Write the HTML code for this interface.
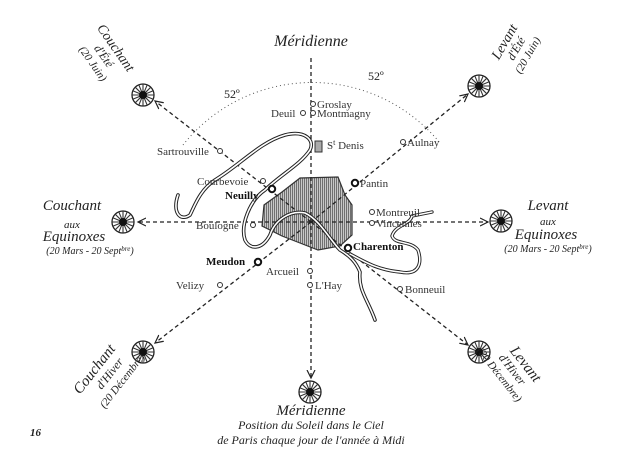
<!DOCTYPE html>
<html><head><meta charset="utf-8"><style>
html,body{margin:0;padding:0;background:#fff;}
svg{display:block;}
text{font-family:"Liberation Serif",serif;font-style:italic;fill:#222;}
.s{font-style:normal;font-size:11px;fill:#333;}
.b{font-style:normal;font-weight:bold;font-size:11px;fill:#111;}
</style></head><body>
<svg width="638" height="460" viewBox="0 0 638 460" xmlns="http://www.w3.org/2000/svg">
<defs>
<g id="sun">
<circle r="11" fill="#fff" stroke="#222" stroke-width="1.3"/>
<g stroke="#333" stroke-width="1.1">
<line x1="-11" y1="0" x2="11" y2="0"/><line x1="0" y1="-11" x2="0" y2="11"/>
<line x1="-7.8" y1="-7.8" x2="7.8" y2="7.8"/><line x1="-7.8" y1="7.8" x2="7.8" y2="-7.8"/>
<line x1="-10.2" y1="-4.2" x2="10.2" y2="4.2"/><line x1="-10.2" y1="4.2" x2="10.2" y2="-4.2"/>
<line x1="-4.2" y1="-10.2" x2="4.2" y2="10.2"/><line x1="-4.2" y1="10.2" x2="4.2" y2="-10.2"/>
</g>
<circle r="4" fill="#111"/>
</g>
<pattern id="hatch" width="2" height="4" patternUnits="userSpaceOnUse">
<rect width="2" height="4" fill="#c8c8c8"/><line x1="0.5" y1="0" x2="0.5" y2="4" stroke="#666" stroke-width="0.9"/>
</pattern>
<marker id="ah" markerWidth="10" markerHeight="10" refX="8" refY="5" orient="auto" markerUnits="userSpaceOnUse">
<path d="M0,1 L8,5 L0,9" fill="none" stroke="#222" stroke-width="1.2"/>
</marker>
</defs>

<path d="M183,145 A165,165 0 0 1 440,143" fill="none" stroke="#555" stroke-width="1" stroke-dasharray="1,3"/>
<text x="224" y="98" font-size="12" style="font-style:normal">52º</text>
<text x="368" y="80" font-size="12" style="font-style:normal">52º</text>

<path d="M300,178 L338,177 L345,195 L352,205 L352,235 L340,246 L318,250 L300,243 L282,236 L262,226 L264,205 L282,192 Z" fill="url(#hatch)" stroke="#333" stroke-width="1.2"/>

<g stroke="#222" stroke-width="1.3" stroke-dasharray="4,3" fill="none">
<line x1="311" y1="58" x2="311" y2="378" marker-end="url(#ah)"/>
<line x1="311" y1="222" x2="138" y2="222" marker-end="url(#ah)"/>
<line x1="311" y1="222" x2="488" y2="222" marker-end="url(#ah)"/>
<line x1="311" y1="222" x2="155" y2="101" marker-end="url(#ah)"/>
<line x1="311" y1="222" x2="468" y2="94" marker-end="url(#ah)"/>
<line x1="311" y1="222" x2="155" y2="343" marker-end="url(#ah)"/>
<line x1="311" y1="222" x2="468" y2="345" marker-end="url(#ah)"/>
</g>

<g fill="none" stroke-linecap="round" stroke-linejoin="round">
<path d="M375,320 C368,300 358,290 360,272 C356,262 350,256 340,250 C330,240 320,220 305,213 C290,210 275,220 270,235 C262,250 250,250 245,240 C240,225 250,200 265,190 C280,175 300,165 310,150 C315,140 305,130 285,135 C260,142 240,165 215,180 C200,190 195,205 190,215 C180,222 172,212 178,195" stroke="#222" stroke-width="3.6"/>
<path d="M375,320 C368,300 358,290 360,272 C356,262 350,256 340,250 C330,240 320,220 305,213 C290,210 275,220 270,235 C262,250 250,250 245,240 C240,225 250,200 265,190 C280,175 300,165 310,150 C315,140 305,130 285,135 C260,142 240,165 215,180 C200,190 195,205 190,215 C180,222 172,212 178,195" stroke="#fff" stroke-width="1.6"/>
<path d="M350,254 C365,262 378,270 400,272 C420,276 422,262 418,250 C410,240 395,245 392,236 C395,225 410,225 412,216 L432,212" stroke="#222" stroke-width="3.4"/>
<path d="M350,254 C365,262 378,270 400,272 C420,276 422,262 418,250 C410,240 395,245 392,236 C395,225 410,225 412,216 L432,212" stroke="#fff" stroke-width="1.5"/>
</g>
<rect x="315" y="141" width="7" height="11" fill="#aaa" stroke="#333" stroke-width="1"/>

<g fill="#fff" stroke="#333" stroke-width="1">
<circle cx="313" cy="104" r="2.5"/><circle cx="303" cy="113" r="2.5"/><circle cx="313" cy="113" r="2.5"/>
<circle cx="403" cy="142" r="2.5"/><circle cx="220" cy="151" r="2.5"/><circle cx="263" cy="181" r="2.5"/>
<circle cx="372" cy="212" r="2.5"/><circle cx="372" cy="223" r="2.5"/><circle cx="253" cy="225" r="2.5"/>
<circle cx="310" cy="271" r="2.5"/><circle cx="220" cy="285" r="2.5"/><circle cx="310" cy="285" r="2.5"/><circle cx="400" cy="289" r="2.5"/>
</g>
<g fill="#fff" stroke="#111" stroke-width="2">
<circle cx="272" cy="189" r="3.2"/><circle cx="355" cy="183" r="3.2"/><circle cx="348" cy="248" r="3.2"/><circle cx="258" cy="262" r="3.2"/>
</g>
<text class="s" x="317" y="108">Groslay</text>
<text class="s" x="271" y="117">Deuil</text>
<text class="s" x="317" y="117">Montmagny</text>
<text class="s" x="327" y="149" font-size="13">S<tspan font-size="8" dy="-4">t</tspan><tspan dy="4"> Denis</tspan></text>
<text class="s" x="407" y="146">Aulnay</text>
<text class="s" x="157" y="155">Sartrouville</text>
<text class="s" x="197" y="185">Courbevoie</text>
<text class="b" x="225" y="199">Neuilly</text>
<text class="s" x="360" y="187">Pantin</text>
<text class="s" x="376" y="216">Montreuil</text>
<text class="s" x="376" y="227">Vincennes</text>
<text class="s" x="196" y="229">Boulogne</text>
<text class="b" x="353" y="250">Charenton</text>
<text class="b" x="206" y="265">Meudon</text>
<text class="s" x="266" y="275">Arcueil</text>
<text class="s" x="176" y="289">Velizy</text>
<text class="s" x="315" y="289">L'Hay</text>
<text class="s" x="405" y="293">Bonneuil</text>

<use href="#sun" x="143" y="95"/><use href="#sun" x="479" y="86"/>
<use href="#sun" x="123" y="222"/><use href="#sun" x="501" y="221"/>
<use href="#sun" x="143" y="352"/><use href="#sun" x="479" y="352"/>
<use href="#sun" x="310" y="392"/>

<text x="311" y="46" font-size="16" text-anchor="middle">Méridienne</text>
<g transform="translate(104,56) rotate(55)" font-size="14" text-anchor="middle">
<text x="0" y="-10">Couchant</text><text x="0" y="4" font-size="12">d'Été</text><text x="0" y="17" font-size="11">(20 Juin)</text></g>
<g transform="translate(510,45) rotate(-60)" font-size="14" text-anchor="middle">
<text x="0" y="-2">Levant</text><text x="0" y="11" font-size="12">d'Été</text><text x="0" y="24" font-size="11">(20 Juin)</text></g>
<g font-size="15" text-anchor="middle">
<text x="72" y="210">Couchant</text><text x="72" y="228" font-size="11">aux</text><text x="74" y="241">Equinoxes</text>
<text x="90" y="254" font-size="10">(20 Mars - 20 Sept<tspan dy="-3" font-size="7">bre</tspan><tspan dy="3">)</tspan></text>
<text x="548" y="210">Levant</text><text x="548" y="225" font-size="11">aux</text><text x="546" y="239">Equinoxes</text>
<text x="548" y="252" font-size="10">(20 Mars - 20 Sept<tspan dy="-3" font-size="7">bre</tspan><tspan dy="3">)</tspan></text>
</g>
<g transform="translate(98,372) rotate(-52)" font-size="15" text-anchor="middle">
<text x="0" y="0">Couchant</text><text x="6" y="14" font-size="12">d'Hiver</text><text x="8" y="28" font-size="11">(20 Décembre)</text></g>
<g transform="translate(522,367) rotate(52)" font-size="15" text-anchor="middle">
<text x="0" y="0">Levant</text><text x="-4" y="13" font-size="12">d'Hiver</text><text x="-8" y="26" font-size="11">(20 Décembre)</text></g>
<text x="311" y="415" font-size="15" text-anchor="middle">Méridienne</text>
<text x="311" y="429" font-size="12" text-anchor="middle">Position du Soleil dans le Ciel</text>
<text x="311" y="444" font-size="12" text-anchor="middle">de Paris chaque jour de l'année à Midi</text>
<text x="30" y="436" font-size="11" style="font-weight:bold">16</text>
</svg>
</body></html>
